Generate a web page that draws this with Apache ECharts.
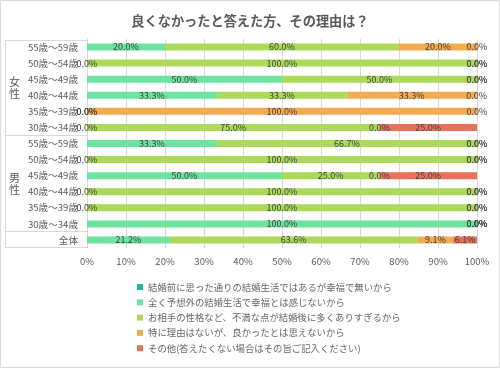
<!DOCTYPE html>
<html>
<head>
<meta charset="utf-8">
<script src="https://cdn.jsdelivr.net/npm/echarts@6/dist/echarts.min.js"></script>
<style>html,body{margin:0;padding:0;background:#fff;}#c{width:500px;height:368px;}</style>
</head>
<body>
<div id="c"></div>
<script>
const title = '良くなかったと答えた方、その理由は？';
const categories = ['55歳～59歳','50歳～54歳','45歳～49歳','40歳～44歳','35歳～39歳','30歳～34歳',
                    '55歳～59歳','50歳～54歳','45歳～49歳','40歳～44歳','35歳～39歳','30歳～34歳','全体'];
const groups = ['女性','男性'];
const seriesNames = [
  '結婚前に思った通りの結婚生活ではあるが幸福で無いから',
  '全く予想外の結婚生活で幸福とは感じないから',
  'お相手の性格など、不満な点が結婚後に多くありすぎるから',
  '特に理由はないが、良かったとは思えないから',
  'その他(答えたくない場合はその旨ご記入ください)'
];
const s1 = [0,0,0,0,0,0, 0,0,0,0,0,0, 0];
const s2 = [20.0,0,50.0,33.3,0,0, 33.3,0,50.0,0,0,100.0, 21.2];
const s3 = [60.0,100.0,50.0,33.3,0,75.0, 66.7,100.0,25.0,100.0,100.0,0, 63.6];
const s4 = [20.0,0,0,33.3,100.0,0, 0,0,0,0,0,0, 9.1];
const s5 = [0,0,0,0,0,25.0, 0,0,25.0,0,0,0, 6.1];
const xTicks = [0,10,20,30,40,50,60,70,80,90,100];
const colors = ['#22b3a3','#6ee3a0','#acd95a','#f0ac50','#e8705c'];

const font = '"Noto Sans CJK JP", "Noto Sans", sans-serif';
const allData = [s1,s2,s3,s4,s5];
const chart = echarts.init(document.getElementById('c'));
const lineStyle = {stroke:'#d9d9d9', lineWidth:1};
chart.setOption({
  animation:false,
  textStyle:{fontFamily:font},
  color:colors,
  title:{text:title, left:'center', top:9,
    textStyle:{fontSize:13.2, fontWeight:'bold', color:'#595959', fontFamily:font}},
  grid:{left:87, right:23, top:39, bottom:120, containLabel:false},
  xAxis:{type:'value', min:0, max:100, interval:10,
    axisLabel:{formatter:v=>v+'%', color:'#595959', fontSize:9.5, margin:9, fontFamily:font},
    axisLine:{show:false}, axisTick:{show:false},
    splitLine:{lineStyle:{color:'#d9d9d9', width:1}}},
  yAxis:{type:'category', data:categories, inverse:true,
    axisLabel:{color:'#595959', fontSize:9.6, margin:9, fontFamily:font},
    axisLine:{lineStyle:{color:'#d9d9d9'}}, axisTick:{show:false}},
  legend:{orient:'vertical', left:132, top:276, itemWidth:6, itemHeight:6, itemGap:3.3,
    icon:'rect', data:seriesNames,
    textStyle:{color:'#666666', fontSize:9.4, lineHeight:12, fontFamily:font}},
  series: allData.map((d,i)=>({
    name:seriesNames[i], type:'bar', stack:'all', data:d, barWidth:7,
    itemStyle:{color:colors[i]},
    label:{show:i>0, position:'inside', formatter:p=>p.value.toFixed(1)+'%',
      color:'#404040', fontSize:9, fontFamily:font}
  })),
  graphic:[
    {type:'rect', shape:{x:0.5,y:0.5,width:499,height:367}, style:{fill:'none', stroke:'#d9d9d9', lineWidth:1}, silent:true},
    {type:'line', shape:{x1:5,y1:40.5,x2:87,y2:40.5}, style:lineStyle, silent:true},
    {type:'line', shape:{x1:5.5,y1:40,x2:5.5,y2:247}, style:lineStyle, silent:true},
    {type:'line', shape:{x1:5,y1:135.5,x2:87,y2:135.5}, style:lineStyle, silent:true},
    {type:'line', shape:{x1:5,y1:231.5,x2:87,y2:231.5}, style:lineStyle, silent:true},
    {type:'line', shape:{x1:5,y1:247.5,x2:87,y2:247.5}, style:lineStyle, silent:true},
    {type:'text', left:9, top:76, style:{text:groups[0].split('').join('\n'), fill:'#595959', fontSize:11, lineHeight:12, fontFamily:font}},
    {type:'text', left:9, top:172, style:{text:groups[1].split('').join('\n'), fill:'#595959', fontSize:11, lineHeight:12, fontFamily:font}}
  ]
});
</script>
</body>
</html>
